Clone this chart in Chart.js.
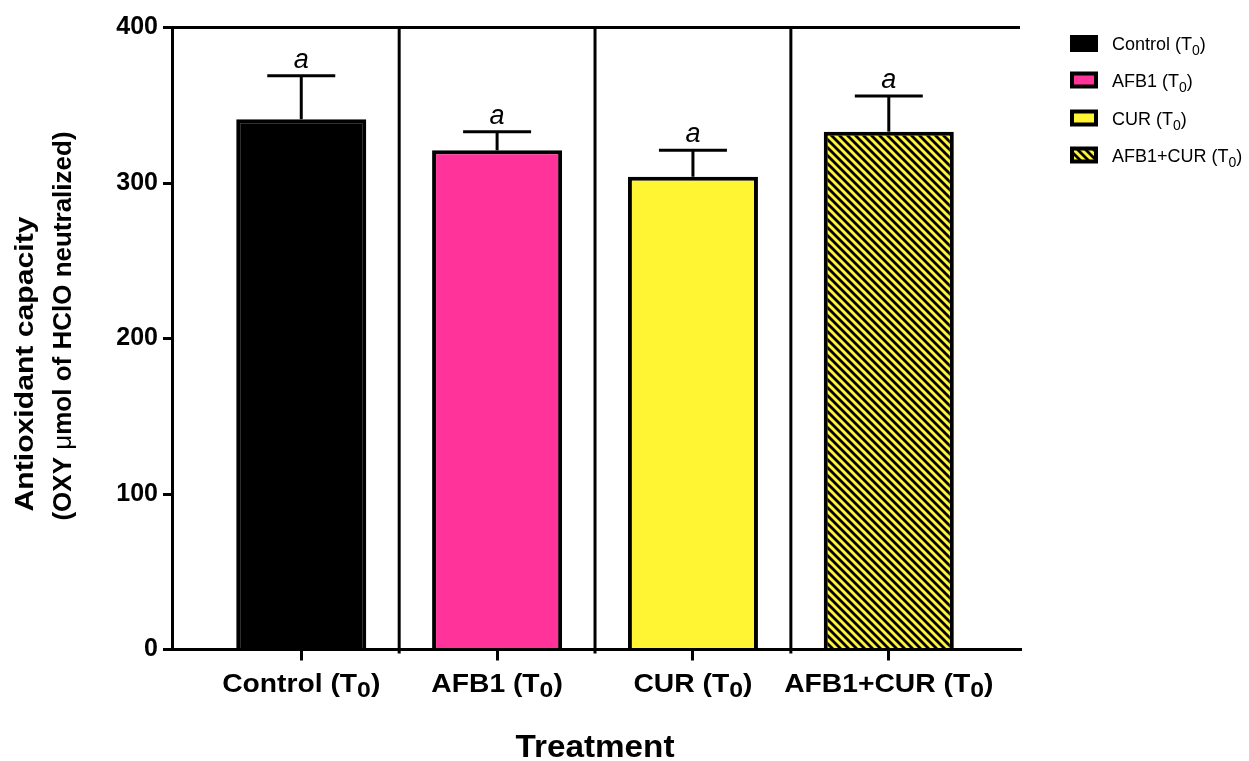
<!DOCTYPE html>
<html>
<head>
<meta charset="utf-8">
<script src="https://cdn.jsdelivr.net/npm/chart.js@4.4.1/dist/chart.umd.min.js"></script>
<style>
  html, body { margin: 0; padding: 0; background: #fff; }
  #wrap { width: 1249px; height: 761px; }
</style>
</head>
<body>
<div id="wrap"><canvas id="chart"></canvas></div>
<script>
// groups, means and upper SD of the oxy-adsorbent test
const treatments = ['Control', 'AFB1', 'CUR', 'AFB1+CUR'];
const timePoint = '0';
const meanValues = [341, 321, 304, 333];
const sdValues = [28, 12, 17, 23];
const groupLetters = ['a', 'a', 'a', 'a'];
const yTicks = [0, 100, 200, 300, 400];

const FONT = "'Liberation Sans', Arial, sans-serif";
const PINK = '#ff3399';
const YELLOW = '#fff533';

Chart.defaults.font.family = FONT;
Chart.defaults.color = '#000';

// yellow fill with black "\" stripes for the combined group
function makeHatch() {
  const c = document.createElement('canvas');
  c.width = 8; c.height = 8;
  const g = c.getContext('2d');
  g.fillStyle = YELLOW;
  g.fillRect(0, 0, 8, 8);
  g.strokeStyle = '#000';
  g.lineWidth = 2.8;
  g.beginPath();
  for (const k of [-8, 0, 8]) { g.moveTo(k - 2, -2); g.lineTo(k + 10, 10); }
  g.stroke();
  return g.createPattern(c, 'repeat');
}
const hatch = makeHatch();
const fills = ['#000', PINK, YELLOW, hatch];

function line(ctx, x1, y1, x2, y2) {
  ctx.beginPath();
  ctx.moveTo(x1, y1);
  ctx.lineTo(x2, y2);
  ctx.stroke();
}

// text made of pieces (subscripts, other fonts), optional horizontal stretch
function drawRich(ctx, parts, x, y, align, sx) {
  let w = 0;
  parts.forEach(p => { ctx.font = p.font; p.w = ctx.measureText(p.text).width; w += p.w; });
  const start = align === 'center' ? x - w * sx / 2 : align === 'right' ? x - w * sx : x;
  ctx.save();
  ctx.translate(start, y);
  ctx.scale(sx, 1);
  ctx.textAlign = 'left';
  ctx.textBaseline = 'alphabetic';
  let cx = 0;
  parts.forEach(p => { ctx.font = p.font; ctx.fillText(p.text, cx, p.dy || 0); cx += p.w; });
  ctx.restore();
}

function withSub(name, font, subFont, dy) {
  return [
    {text: name + ' (T', font: font},
    {text: timePoint, font: subFont, dy: dy},
    {text: ')', font: font},
  ];
}

const overlay = {
  id: 'overlay',
  afterDraw(chart) {
    const {ctx, chartArea: a} = chart;
    const x = chart.scales.x, y = chart.scales.y;
    ctx.save();
    ctx.strokeStyle = '#000';
    ctx.fillStyle = '#000';
    ctx.lineWidth = 3;

    // top frame line
    const yTop = y.getPixelForValue(yTicks[yTicks.length - 1]);
    line(ctx, a.left - 9, yTop, a.right, yTop);

    // group separators
    for (let i = 0; i < treatments.length - 1; i++) {
      const px = x.getPixelForValue(i + 0.5);
      line(ctx, px, a.top, px, a.bottom + 4);
    }

    // upper error bars and letters
    meanValues.forEach((m, i) => {
      const px = x.getPixelForValue(i);
      const y0 = y.getPixelForValue(m);
      const y1 = y.getPixelForValue(m + sdValues[i]);
      line(ctx, px, y0, px, y1);
      line(ctx, px - 34, y1, px + 34, y1);
      ctx.font = 'italic 27px ' + FONT;
      ctx.textAlign = 'center';
      ctx.textBaseline = 'alphabetic';
      ctx.fillText(groupLetters[i], px, y1 - 8);
    });

    // category labels
    treatments.forEach((t, i) => {
      const px = x.getPixelForValue(i);
      drawRich(ctx, withSub(t, 'bold 25px ' + FONT, 'bold 22px ' + FONT, 5), px, 692, 'center', 1.13);
    });

    // axis titles
    drawRich(ctx, [{text: 'Treatment', font: 'bold 32px ' + FONT}], 595, 757, 'center', 1.04);

    ctx.save();
    ctx.translate(33, 364);
    ctx.rotate(-Math.PI / 2);
    drawRich(ctx, [{text: 'Antioxidant capacity', font: 'bold 26px ' + FONT}], 0, 0, 'center', 1.16);
    ctx.restore();

    ctx.save();
    ctx.translate(71, 326);
    ctx.rotate(-Math.PI / 2);
    drawRich(ctx, [
      {text: '(OXY ', font: 'bold 26px ' + FONT},
      {text: 'μ', font: '26px ' + FONT},
      {text: 'mol of HClO neutralized)', font: 'bold 26px ' + FONT},
    ], 0, 0, 'center', 1.0);
    ctx.restore();

    // legend
    const rows = [43.5, 80, 118, 155];
    treatments.forEach((t, i) => {
      const cy = rows[i];
      ctx.fillStyle = '#000';
      ctx.fillRect(1070, cy - 8.5, 28, 17);
      if (i > 0) {
        ctx.fillStyle = fills[i];
        ctx.fillRect(1074, cy - 4.5, 20, 9);
      }
      ctx.fillStyle = '#000';
      drawRich(ctx, withSub(t, '18px ' + FONT, '14px ' + FONT, 5), 1112, cy + 6.5, 'left', 1);
    });

    ctx.restore();
  }
};

new Chart(document.getElementById('chart'), {
  type: 'bar',
  data: {
    datasets: [{
      data: meanValues.map((v, i) => ({x: i, y: v})),
      backgroundColor: fills,
      borderColor: '#000',
      borderWidth: 4,
      categoryPercentage: 1,
      barPercentage: 0.664,
    }],
  },
  options: {
    responsive: true,
    maintainAspectRatio: false,
    animation: false,
    events: [],
    layout: {padding: {top: 27.5, right: 229, bottom: 0, left: 0}},
    plugins: {
      legend: {display: false},
      tooltip: {enabled: false},
    },
    scales: {
      x: {
        type: 'linear',
        min: -0.66,
        max: 3.67,
        offset: false,
        afterBuildTicks: s => { s.ticks = treatments.map((_, i) => ({value: i})); },
        afterFit: s => { s.height = 111.5; },
        ticks: {callback: () => '', autoSkip: false},
        grid: {drawOnChartArea: false, offset: false, tickLength: 11, lineWidth: 3, color: '#000'},
        border: {color: '#000', width: 3},
      },
      y: {
        min: 0,
        max: 400,
        afterBuildTicks: s => { s.ticks = yTicks.map(v => ({value: v})); },
        afterFit: s => { s.width = 172; },
        ticks: {font: {size: 25, weight: 'bold'}, color: '#000', padding: 5},
        grid: {drawOnChartArea: false, tickLength: 9, lineWidth: 3, color: '#000'},
        border: {color: '#000', width: 3},
      },
    },
  },
  plugins: [overlay],
});
</script>
</body>
</html>
